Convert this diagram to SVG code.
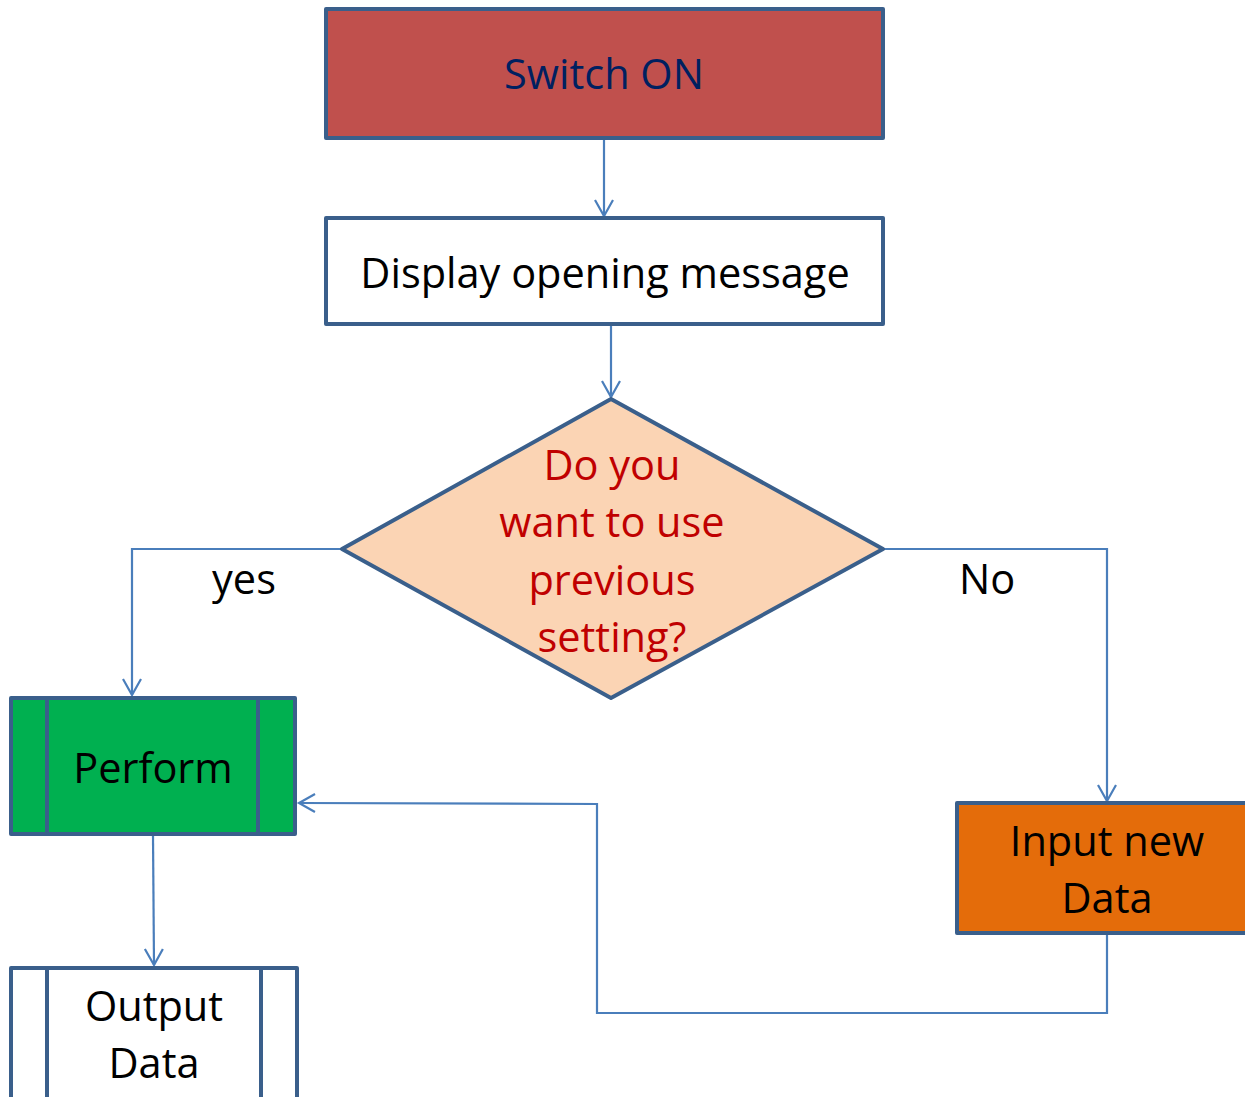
<svg xmlns="http://www.w3.org/2000/svg" width="1245" height="1097" viewBox="0 0 1245 1097">
<style>
.box{stroke:#3A5F8B;stroke-width:4;stroke-linejoin:round}
.con{fill:none;stroke:#4A7EBB;stroke-width:2.2}
text{font-family:"Open Sans","Noto Sans",sans-serif;font-size:41.5px;text-anchor:middle;fill:#000}
.red{fill:#C00000}
</style>
<defs>
<marker id="arr" markerWidth="40" markerHeight="40" viewBox="-20 -20 40 40" refX="0" refY="0" orient="auto" markerUnits="userSpaceOnUse">
<path d="M-16,-9 L0,0 L-16,9" fill="none" stroke="#4A7EBB" stroke-width="2.2"/>
</marker>
</defs>
<rect width="1245" height="1097" fill="#fff"/>
<g id="connectors">
<line class="con" x1="604" y1="140" x2="604" y2="216" marker-end="url(#arr)"/>
<line class="con" x1="611" y1="326" x2="611" y2="397" marker-end="url(#arr)"/>
<polyline class="con" points="342,549 132,549 132,695" marker-end="url(#arr)"/>
<polyline class="con" points="883,549 1107,549 1107,801" marker-end="url(#arr)"/>
<line class="con" x1="153" y1="836" x2="154" y2="965" marker-end="url(#arr)"/>
<polyline class="con" points="1107,935 1107,1013 597,1013 597,804 299,803" marker-end="url(#arr)"/>
</g>
<g id="switch-on">
<rect class="box" x="326" y="9" width="557" height="129" fill="#C0504D"/>
<text x="604" y="89" style="fill:#002060">Switch ON</text>
</g>
<g id="display">
<rect class="box" x="326" y="218" width="557" height="106" fill="#fff"/>
<text x="605" y="288">Display opening message</text>
</g>
<g id="decision">
<polygon class="box" points="611,399 883,549 611,698 342,549" fill="#FBD4B4"/>
<text class="red" x="612" y="480">Do you</text>
<text class="red" x="612" y="537">want to use</text>
<text class="red" x="612" y="595">previous</text>
<text class="red" x="612" y="652">setting?</text>
</g>
<g id="label-yes"><text x="244" y="594">yes</text></g>
<g id="label-no"><text x="987" y="594">No</text></g>
<g id="perform">
<rect class="box" x="11" y="698" width="284" height="136" fill="#00B050"/>
<line class="box" x1="47" y1="698" x2="47" y2="834"/>
<line class="box" x1="258" y1="698" x2="258" y2="834"/>
<text x="153" y="783">Perform</text>
</g>
<g id="output">
<rect class="box" x="11" y="968" width="286" height="140" fill="#fff"/>
<line class="box" x1="47" y1="968" x2="47" y2="1100"/>
<line class="box" x1="261" y1="968" x2="261" y2="1100"/>
<text x="154" y="1021">Output</text>
<text x="154" y="1078">Data</text>
</g>
<g id="input">
<rect class="box" x="957" y="803" width="300" height="130" fill="#E46C0A"/>
<text x="1107" y="856">Input new</text>
<text x="1107" y="913">Data</text>
</g>
</svg>
